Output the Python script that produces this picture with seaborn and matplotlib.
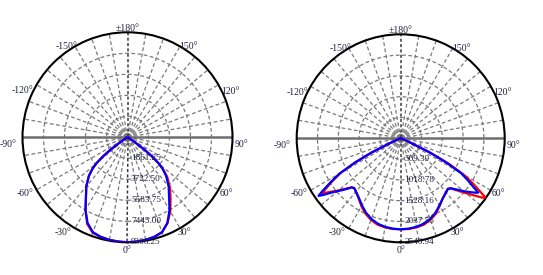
import numpy as np
import pandas as pd
import matplotlib
matplotlib.use("Agg")
import matplotlib.pyplot as plt
import seaborn as sns

sns.set_style("white")
plt.rcParams['font.family'] = ['Liberation Serif', 'DejaVu Serif']

# ---------------- data ----------------
# left chart: angles (deg) and intensities (cd)
angles_left = [-90, -80, -70, -65, -60, -58, -56, -54, -52, -50, -48, -45, -40, -35, -30, -25, -20, -15, -10, -5, 0,
               5, 10, 15, 20, 25, 30, 35, 40, 45, 48, 50, 52, 54, 56, 58, 60, 65, 70, 80, 90]
left_c0 = [93, 93, 93, 112, 186, 372, 838, 1861, 2792, 3629, 4188, 4839, 5677, 6421, 7445, 8469, 9008, 9139, 9232, 9278, 9306,
           9278, 9232, 9139, 8952, 8376, 7585, 6654, 5863, 4979, 4281, 3629, 2792, 1861, 838, 372, 186, 112, 93, 93, 93]
left_c90 = [93, 93, 93, 112, 186, 372, 838, 1861, 2792, 3629, 4188, 4839, 5677, 6421, 7445, 8376, 8952, 9139, 9232, 9278, 9306,
            9278, 9232, 9139, 8952, 8376, 7445, 6421, 5677, 4839, 4188, 3629, 2792, 1861, 838, 372, 186, 112, 93, 93, 93]
left_rticks = [1861.25, 3722.50, 5583.75, 7445.00, 9306.25]

# right chart
angles_right = [-90, -80, -70, -66, -64, -62, -60, -58, -56, -55, -54, -52, -50, -48, -45, -43, -40, -35, -30, -25,
                -20, -15, -10, -5, 0, 5, 10, 15, 20, 25, 30, 35, 40, 43, 45, 48, 50, 52, 54, 55, 56, 58, 60, 62,
                64, 66, 70, 80, 90]
right_c0 = [13, 13, 51, 255, 790, 1273, 1706, 1961, 2216, 2343, 2267, 2114, 1987, 1859, 1694, 1668, 1706, 1796, 1923,
            2038, 2127, 2190, 2216, 2229, 2229, 2229, 2216, 2190, 2127, 2038, 1910, 1796, 1719, 1694, 1732, 1936,
            2088, 2267, 2471, 2547, 2369, 2088, 1783, 1350, 840, 280, 51, 13, 13]
right_c90 = [13, 13, 51, 255, 790, 1273, 1732, 2012, 2318, 2458, 2369, 2165, 2012, 1885, 1706, 1668, 1706, 1783, 1897,
             2012, 2101, 2165, 2203, 2221, 2229, 2221, 2203, 2165, 2101, 2012, 1897, 1796, 1732, 1694, 1732, 1885,
             2012, 2139, 2267, 2318, 2165, 1936, 1706, 1273, 790, 255, 51, 13, 13]
right_rticks = [509.39, 1018.78, 1528.16, 2037.55, 2546.94]

angle_labels = ["0°", "30°", "60°", "90°", "120°", "150°", "±180°",
                "-30°", "-60°", "-90°", "-120°", "-150°"]

# label placement (angle deg, radius as fraction of outer circle)
label_pos = {"0°": (0, 1.075), "30°": (31, 1.06), "60°": (60.4, 1.08), "90°": (86.5, 1.09),
             "120°": (114, 1.075), "150°": (146, 1.04), "±180°": (180, 1.035),
             "-30°": (-34, 1.09), "-60°": (-61.4, 1.11), "-90°": (-86.7, 1.14),
             "-120°": (-114, 1.09), "-150°": (-146, 1.04)}

TXT = '#202040'
GRID = '#7a7a7a'


def draw(ax, angles, c0, c90, rticks):
    rmax = rticks[-1]
    ax.set_theta_zero_location('S')
    ax.set_theta_direction(1)
    ax.grid(False)
    ax.set_xticks([])
    ax.set_yticks([])
    th = np.linspace(0, 2 * np.pi, 721)
    # rings
    for r in rticks[:-1]:
        ax.plot(th, np.full_like(th, r), color=GRID, lw=0.9, ls=(0, (3, 2)), zorder=1)
    ax.plot(th, np.full_like(th, rmax * 0.035), color=GRID, lw=1.3, zorder=1)
    ax.plot(th, np.full_like(th, rmax * 0.018), color=GRID, lw=0.9, zorder=1)
    # spokes
    for a in range(0, 360, 10):
        if a in (0, 90, 180, 270):
            continue
        t = np.deg2rad(a)
        ax.plot([t, t], [0, rmax], color=GRID, lw=0.9, ls=(0, (3, 2)), zorder=1)
    ax.plot([np.deg2rad(90)] * 2, [0, rmax], color='#6e6e6e', lw=1.8, zorder=1)
    ax.plot([np.deg2rad(-90)] * 2, [0, rmax], color='#6e6e6e', lw=1.8, zorder=1)
    ax.plot([0, 0], [0, rmax], color='#3a3a3a', lw=1.1, ls=(0, (2, 1.5)), zorder=1)
    ax.plot([np.pi, np.pi], [0, rmax], color='#3a3a3a', lw=1.1, ls=(0, (2, 1.5)), zorder=1)

    df = pd.DataFrame({
        'theta': np.deg2rad(np.array(angles + angles, dtype=float)),
        'cd': c0 + c90,
        'plane': ['C0-C180'] * len(angles) + ['C90-C270'] * len(angles),
    })
    sns.lineplot(data=df, x='theta', y='cd', hue='plane', palette={'C0-C180': '#ff0000', 'C90-C270': '#0000ff'},
                 sort=False, estimator=None, lw=1.6, legend=False, ax=ax, zorder=3)
    ax.set_xlabel('')
    ax.set_ylabel('')
    ax.set_xlim(0, 2 * np.pi)
    ax.set_ylim(0, rmax)
    ax.spines['polar'].set_color('black')
    ax.spines['polar'].set_linewidth(1.5)

    # radial labels
    for r in rticks:
        ax.annotate(f"{r:.2f}", xy=(0, r), xytext=(2.5, 0), textcoords='offset points',
                    ha='left', va='center', fontsize=6.6, color=TXT, zorder=4, annotation_clip=False)
    # angle labels
    for lab in angle_labels:
        a, rr = label_pos[lab]
        ax.text(np.deg2rad(a), rmax * rr, lab, ha='center', va='center', fontsize=7, color=TXT)


fig = plt.figure(figsize=(5.43, 2.75), dpi=100)
ax1 = fig.add_axes([22.5 / 543, 32.7 / 275, 210 / 543, 210 / 275], projection='polar')
ax2 = fig.add_axes([296.7 / 543, 32.7 / 275, 208 / 543, 208 / 275], projection='polar')
draw(ax1, angles_left, left_c0, left_c90, left_rticks)
draw(ax2, angles_right, right_c0, right_c90, right_rticks)
fig.savefig('out.png', dpi=100, facecolor='white')
